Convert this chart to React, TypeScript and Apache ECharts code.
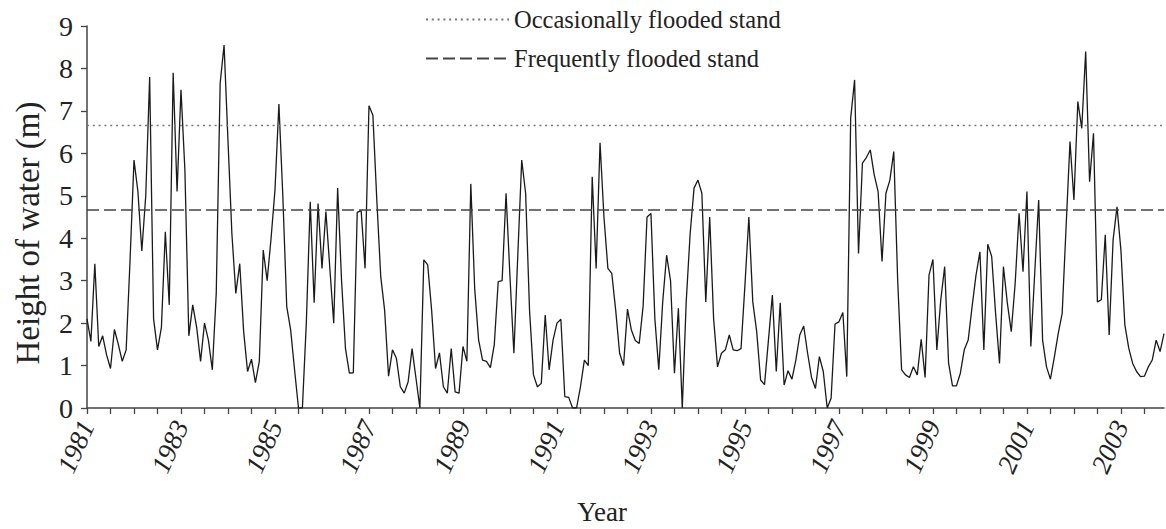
import React, { useEffect, useRef } from "react";
import * as echarts from "echarts";

const START_YEAR = 1981;
const FONT = "'Liberation Serif', 'Times New Roman', serif";

// Monthly height of water (m), Jan 1981 onwards
const waterHeight = [
  2.1, 1.57, 3.4, 1.45, 1.7, 1.25, 0.93, 1.85, 1.5, 1.1,
  1.37, 3.5, 5.84, 5.1, 3.7, 5.0, 7.8, 2.1, 1.37, 1.9,
  4.15, 2.43, 7.9, 5.1, 7.5, 5.6, 1.7, 2.43, 1.9, 1.1,
  2.0, 1.6, 0.9, 2.7, 7.65, 8.55, 6.3, 4.1, 2.7, 3.4,
  1.8, 0.86, 1.15, 0.6, 1.1, 3.72, 3.0, 4.0, 5.14, 7.16,
  5.0, 2.39, 1.84, 0.9, 0.0, 0.0, 2.0, 4.86, 2.48, 4.82,
  3.29, 4.63, 3.3, 2.0, 5.18, 3.0, 1.4, 0.82, 0.83, 4.61,
  4.65, 3.29, 7.12, 6.9, 4.9, 3.1, 2.3, 0.75, 1.37, 1.17,
  0.5, 0.35, 0.62, 1.4, 0.7, 0.0, 3.49, 3.37, 2.3, 0.93,
  1.3, 0.5, 0.35, 1.4, 0.38, 0.35, 1.45, 1.1, 5.28, 2.8,
  1.6, 1.13, 1.1, 0.95, 1.5, 2.98, 3.0, 5.06, 3.1, 1.29,
  3.6, 5.84, 5.06, 2.3, 0.78, 0.5, 0.58, 2.19, 0.9, 1.6,
  2.0, 2.09, 0.27, 0.25, 0.0, 0.0, 0.5, 1.13, 1.0, 5.45,
  3.29, 6.25, 4.5, 3.29, 3.17, 2.3, 1.29, 1.0, 2.33, 1.84,
  1.59, 1.52, 2.4, 4.5, 4.58, 2.1, 0.9, 2.5, 3.6, 3.0,
  0.82, 2.35, 0.0, 2.5, 4.1, 5.18, 5.37, 5.06, 2.5, 4.5,
  2.1, 0.97, 1.29, 1.37, 1.72, 1.37, 1.35, 1.4, 2.9, 4.5,
  2.5, 1.8, 0.66, 0.55, 1.6, 2.66, 0.86, 2.48, 0.54, 0.88,
  0.68, 1.13, 1.72, 1.93, 1.29, 0.72, 0.46, 1.21, 0.86, 0.0,
  0.23, 1.98, 2.03, 2.25, 0.74, 6.83, 7.73, 3.64, 5.77, 5.9,
  6.08, 5.5, 5.1, 3.45, 5.06, 5.37, 6.04, 3.0, 0.9, 0.78,
  0.72, 0.97, 0.78, 1.62, 0.72, 3.13, 3.5, 1.37, 2.55, 3.33,
  1.05, 0.52, 0.52, 0.82, 1.37, 1.6, 2.39, 3.13, 3.68, 1.37,
  3.86, 3.57, 2.23, 1.05, 3.33, 2.47, 1.8, 2.94, 4.59, 3.21,
  5.1, 1.45, 3.2, 4.9, 1.6, 0.97, 0.68, 1.2, 1.76, 2.23,
  4.27, 6.28, 4.9, 7.22, 6.59, 8.4, 5.33, 6.47, 2.5, 2.55,
  4.08, 1.72, 3.96, 4.74, 3.72, 1.96, 1.41, 1.05, 0.86, 0.74,
  0.75, 0.97, 1.13, 1.6, 1.33, 1.75,
];

const months = waterHeight.map(
  (_, i) => `${START_YEAR + Math.floor(i / 12)}-${String((i % 12) + 1).padStart(2, "0")}`
);

const levelNames = ["Occasionally flooded stand", "Frequently flooded stand"];
const levelValues = [6.67, 4.66];

const yAxisName = "Height of water (m)";
const xAxisName = "Year";

export default function App() {
  const ref = useRef<HTMLDivElement>(null);

  useEffect(() => {
    if (!ref.current) return;
    const chart = echarts.init(ref.current, null, { renderer: "svg" });
    const axisColor = "#444";
    const textColor = "#222";

    const option: any = {
      animation: false,
      backgroundColor: "#ffffff",
      textStyle: { fontFamily: FONT },
      grid: { left: 87, right: 2, top: 26, bottom: 121, containLabel: false },
      legend: {
        data: levelNames,
        orient: "vertical",
        left: 425,
        top: 7,
        padding: 0,
        itemWidth: 83,
        itemHeight: 20,
        itemGap: 14,
        selectedMode: false,
        itemStyle: { opacity: 0 },
        textStyle: { fontFamily: FONT, fontSize: 24.5, color: textColor },
      },
      xAxis: {
        type: "category",
        data: months,
        boundaryGap: false,
        axisLine: { lineStyle: { color: axisColor, width: 1.5 } },
        axisTick: { show: true, interval: 5, length: 6, lineStyle: { color: axisColor, width: 1.3 } },
        axisLabel: {
          interval: 23,
          rotate: 66,
          margin: 14,
          fontSize: 27,
          fontStyle: "italic",
          fontFamily: FONT,
          color: textColor,
          formatter: (v: string) => v.slice(0, 4),
        },
        splitLine: { show: false },
      },
      yAxis: {
        type: "value",
        min: 0,
        max: 9,
        interval: 1,
        axisLine: { show: true, lineStyle: { color: axisColor, width: 1.5 } },
        axisTick: { show: true, length: 6, lineStyle: { color: axisColor, width: 1.3 } },
        axisLabel: { fontSize: 28, margin: 14, fontFamily: FONT, color: textColor },
        splitLine: { show: false },
      },
      graphic: [
        {
          type: "text",
          x: 28,
          y: 233,
          rotation: Math.PI / 2,
          style: {
            text: yAxisName,
            fontSize: 33,
            fontFamily: FONT,
            fill: textColor,
            align: "center",
            verticalAlign: "middle",
          },
        },
        {
          type: "text",
          x: 602,
          y: 512,
          style: {
            text: xAxisName,
            fontSize: 27,
            fontFamily: FONT,
            fill: textColor,
            align: "center",
            verticalAlign: "middle",
          },
        },
      ],
      series: [
        {
          type: "line",
          name: "Height of water",
          data: waterHeight,
          symbol: "none",
          showSymbol: false,
          lineStyle: { color: "#1a1a1a", width: 1.3 },
          itemStyle: { color: "#1a1a1a" },
          z: 3,
        },
        {
          type: "line",
          name: levelNames[0],
          data: [],
          symbol: "none",
          lineStyle: { color: "#777", width: 1.4, type: [2, 3.8] },
          itemStyle: { color: "#777" },
          markLine: {
            silent: true,
            symbol: ["none", "none"],
            label: { show: false },
            lineStyle: { color: "#777", width: 1.4, type: [2, 3.8] },
            data: [{ yAxis: levelValues[0] }],
          },
        },
        {
          type: "line",
          name: levelNames[1],
          data: [],
          symbol: "none",
          lineStyle: { color: "#444", width: 1.5, type: [12, 5] },
          itemStyle: { color: "#444" },
          markLine: {
            silent: true,
            symbol: ["none", "none"],
            label: { show: false },
            lineStyle: { color: "#444", width: 1.5, type: [12, 5] },
            data: [{ yAxis: levelValues[1] }],
          },
        },
      ],
    };

    chart.setOption(option);
    return () => chart.dispose();
  }, []);

  return (
    <div
      ref={ref}
      style={{ position: "fixed", left: 0, top: 0, width: 1166, height: 529, background: "#fff" }}
    />
  );
}
